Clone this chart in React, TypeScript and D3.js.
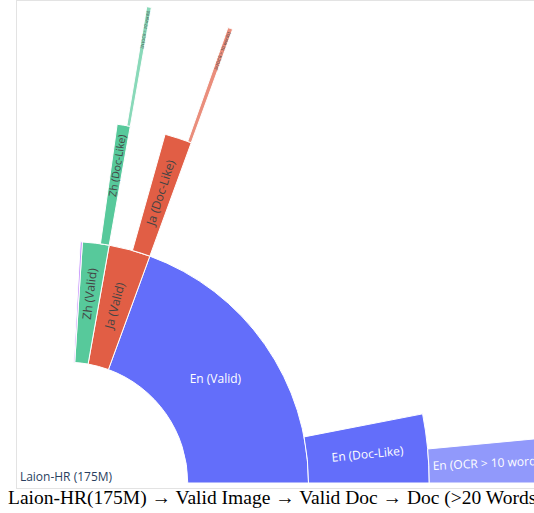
import React, { useMemo } from 'react';
import * as d3 from 'd3';

// ---------------- data (values in millions of images) ----------------
const ROOT_LABEL = 'Laion-HR (175M)';
const ROOT_TOTAL = 175;
const languages = ['En', 'Ja', 'Zh', 'Other'];
const languageColors = ['#636efa', '#e15e45', '#57c99b', '#ab63fa'];
const validValues = [34.0, 4.86, 3.11, 0.24];
const docLikeValues = [5.35, 2.11, 1.02, 0];
const ocrValues = [2.62, 0.29, 0.27, 0];
const levelNames = ['Valid', 'Doc-Like', 'OCR > 10 words'];
const CAPTION = 'Laion-HR(175M) \u2192 Valid Image \u2192 Valid Doc \u2192 Doc (>20 Words)';

// ---------------- layout ----------------
const W = 534;
const H = 513;
const CX = 67;
const CY = 483;
const R = 483;
const FONT = '"Open Sans", verdana, arial, sans-serif';

type Node = {
  id: string;
  label: string;
  depth: number;
  value: number;
  color: string;
  leaf: boolean;
  a0: number;
  a1: number;
  showLabel: boolean;
};

function measure(text: string, size: number) {
  const c = document.createElement('canvas').getContext('2d');
  if (!c) return text.length * size * 0.58;
  c.font = `${size}px "Open Sans"`;
  return c.measureText(text).width;
}

export default function App() {
  const angle = d3.scaleLinear().domain([0, ROOT_TOTAL]).range([0, 2 * Math.PI]);
  const radius = d3.scaleLinear().domain([0, 4]).range([0, R]);
  const START = Math.PI / 2; // sectors run counter-clockwise from 3 o'clock

  const nodes = useMemo(() => {
    const out: Node[] = [];
    const levels = [validValues, docLikeValues, ocrValues];
    let cum = 0;
    languages.forEach((lang, i) => {
      const v1 = validValues[i];
      const end = START - angle(cum);
      cum += v1;
      levels.forEach((vals, d) => {
        const v = vals[i];
        if (!v) return;
        const next = levels[d + 1];
        const leaf = !next || !next[i];
        out.push({
          id: `${lang}-${d}`,
          label: `${lang} (${levelNames[d]})`,
          depth: d + 1,
          value: v,
          color: languageColors[i],
          leaf,
          a0: end - angle(v),
          a1: end,
          showLabel: lang !== 'Other',
        });
      });
    });
    return out;
  }, []);

  const arc = d3
    .arc<Node>()
    .innerRadius((d) => radius(d.depth))
    .outerRadius((d) => radius(d.depth + 1))
    .startAngle((d) => d.a0)
    .endAngle((d) => d.a1);

  const textColor = (hex: string) => {
    const c = d3.rgb(hex);
    const b = (c.r * 299 + c.g * 587 + c.b * 114) / 1000;
    return b >= 128 ? '#444' : '#fff';
  };

  const labels = nodes
    .filter((n) => n.showLabel)
    .map((n) => {
      const r0 = radius(n.depth);
      const r1 = radius(n.depth + 1);
      const rm = (r0 + r1) / 2;
      const dA = n.a1 - n.a0;
      const am = (n.a0 + n.a1) / 2;
      let size = 12;
      const w = measure(n.label, 12);
      const k = w / 12;
      let rot = 0;
      let rc = rm;
      const thick = rm * dA;
      if (thick > w * 1.2 && r1 - r0 > 24) {
        rot = 0;
      } else {
        const deg = (am * 180) / Math.PI;
        rot = deg <= 180 ? deg - 90 : deg + 90;
        if (thick < 12 * 1.2) {
          size = (r1 * dA) / (1.05 + k * dA);
          const L = size * k;
          rc = Math.max(rm, r1 - L / 2 - size * 0.9);
        } else {
          const f = n.depth === 1 ? 0.6 : 0.25;
          rc = rm + Math.max(0, Math.min(14, (36 - thick) * f));
        }
      }
      const x = CX + rc * Math.sin(am);
      const y = CY - rc * Math.cos(am);
      return { n, x, y, rot, size, fill: textColor(n.color) };
    });

  return (
    <div style={{ position: 'absolute', left: 0, top: 0 }}>
      <svg width={W} height={H} style={{ display: 'block', background: '#fff' }}>
        <defs>
          <clipPath id="frame">
            <rect x={17} y={1} width={W} height={487} />
          </clipPath>
        </defs>
        <g clipPath="url(#frame)">
          <g transform={`translate(${CX},${CY})`}>
            <circle r={radius(1)} fill="#fff" stroke="#fff" strokeWidth={1} />
            {nodes.map((n) => (
              <path
                key={n.id}
                d={arc(n) || ''}
                fill={n.color}
                fillOpacity={n.leaf ? 0.7 : 1}
                stroke="#fff"
                strokeWidth={1}
              />
            ))}
          </g>
          {labels.map((l) => (
            <text
              key={l.n.id}
              x={l.x}
              y={l.y}
              dy="0.35em"
              textAnchor="middle"
              fontFamily={FONT}
              fontSize={l.size}
              fill={l.fill}
              transform={`rotate(${l.rot},${l.x},${l.y})`}
            >
              {l.n.label}
            </text>
          ))}
          <text x={CX - 1} y={CY - 2} textAnchor="middle" fontFamily={FONT} fontSize={12} fill="#2a3f5f">
            {ROOT_LABEL}
          </text>
        </g>
        <line x1={16.5} y1={0} x2={16.5} y2={489} stroke="#e3e3e3" strokeWidth={1} />
        <line x1={16} y1={0.5} x2={W} y2={0.5} stroke="#e3e3e3" strokeWidth={1} />
        <line x1={16} y1={488.5} x2={W} y2={488.5} stroke="#e3e3e3" strokeWidth={1} />
        <text x={8} y={503.5} fontFamily='"Liberation Serif", "Times New Roman", serif' fontSize={19.5} fill="#000">
          {CAPTION}
        </text>
      </svg>
    </div>
  );
}
